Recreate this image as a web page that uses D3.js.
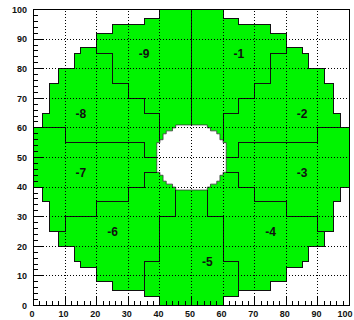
<!DOCTYPE html>
<html><head><meta charset="utf-8">
<script src="https://cdn.jsdelivr.net/npm/d3@7"></script>
<style>body{margin:0;background:#fff}svg{display:block}</style>
</head><body>
<svg id="c" width="354" height="320"></svg>
<script>
// ---- data ----
// outer boundary: column edges (x) with bottom / top y of filled region
const xEdges    = [0, 3, 5, 8, 13, 15, 20, 25, 35, 40, 60, 65, 75, 80, 85, 87, 92, 95, 97, 100];
const colTop    = [60, 65, 75, 80, 85, 87, 92, 95, 97, 100, 97, 95, 92, 87, 85, 80, 75, 65, 60];
const colBottom = [40, 35, 25, 20, 15, 13, 8, 5, 3, 0, 3, 5, 8, 13, 15, 20, 25, 35, 40];
// central hole: row bottoms and half widths around x = 50
const holeRows  = [39,40,41,42,43,44,45,46,47,48,49,50,51,52,53,54,55,56,57,58,59,60];
const holeHalf  = [5, 6, 8, 9, 9, 10,11,11,11,11,11,11,11,11,11,11,10, 9, 9, 8, 6, 5];
const holeCenter = 50;
// sector boundaries (polylines)
const sectorLines = [
  [[50,100],[50,61]],
  [[80,87],[80,85],[75,85],[75,75],[70,75],[70,70],[65,70],[65,65],[60,65],[60,56]],
  [[20,87],[20,85],[25,85],[25,75],[30,75],[30,70],[35,70],[35,65],[40,65],[40,56]],
  [[0,60],[10,60],[10,55],[35,55],[35,50],[39,50]],
  [[100,60],[90,60],[90,55],[65,55],[65,50],[61,50]],
  [[39,45],[35,45],[35,40],[30,40],[30,35],[20,35],[20,30],[10,30],[10,25],[8,25]],
  [[61,45],[65,45],[65,40],[70,40],[70,35],[80,35],[80,30],[90,30],[90,25],[92,25]],
  [[45,39],[45,30],[40,30],[40,15],[35,15],[35,3]],
  [[55,39],[55,30],[60,30],[60,15],[65,15],[65,3]]
];
// sector labels
const sectorNames = ["-1","-2","-3","-4","-5","-6","-7","-8","-9"];
const sectorLabelX = [65, 85, 85, 75, 55, 25, 15, 15, 35];
const sectorLabelY = [85, 65, 45, 25, 15, 25, 45, 65, 85];
// axes
const majorTicks = [0,10,20,30,40,50,60,70,80,90,100];
const minorTicks = [2,4,6,8,12,14,16,18,22,24,26,28,32,34,36,38,42,44,46,48,52,54,56,58,62,64,66,68,72,74,76,78,82,84,86,88,92,94,96,98];
const gridValues = [10,20,30,40,50,60,70,80,90];
const tickLabels = ["0","10","20","30","40","50","60","70","80","90","100"];

// ---- drawing ----
const svg = d3.select("#c");
const W = 354;
const x = d3.scaleLinear().domain([0,100]).range([33.5,349.5]);
const y = d3.scaleLinear().domain([0,100]).range([305.5,9.5]);
const line = d3.line().x(d=>x(d[0])).y(d=>y(d[1]));
const green = "#00f400";

// outer region polygon
const outer = [];
for (let i = 0; i < colTop.length; i++) { outer.push([xEdges[i], colTop[i]], [xEdges[i+1], colTop[i]]); }
for (let i = colBottom.length - 1; i >= 0; i--) { outer.push([xEdges[i+1], colBottom[i]], [xEdges[i], colBottom[i]]); }
svg.append("path").attr("d", line(outer) + "Z")
  .attr("fill", green).attr("stroke", "none");

// hole polygon
const hole = [];
for (let i = 0; i < holeRows.length; i++) { hole.push([holeCenter - holeHalf[i], holeRows[i]], [holeCenter - holeHalf[i], holeRows[i] + 1]); }
for (let i = holeRows.length - 1; i >= 0; i--) { hole.push([holeCenter + holeHalf[i], holeRows[i] + 1], [holeCenter + holeHalf[i], holeRows[i]]); }
svg.append("path").attr("d", line(hole) + "Z")
  .attr("fill", "#fff").attr("stroke", "#3a3a3a").attr("stroke-width", 0.8);

// outer outline
svg.append("path").attr("d", line(outer) + "Z")
  .attr("fill", "none").attr("stroke", "#111").attr("stroke-width", 1)
  .attr("shape-rendering", "crispEdges");

// sector lines
svg.selectAll("path.sec").data(sectorLines).join("path").attr("class","sec")
  .attr("d", d => line(d)).attr("fill","none").attr("stroke","#111").attr("stroke-width",1)
  .attr("shape-rendering","crispEdges");

// grid
const g = svg.append("g").attr("stroke","#000").attr("stroke-width",1).attr("stroke-dasharray","1,2").attr("shape-rendering","crispEdges");
g.selectAll("line.gx").data(gridValues).join("line").attr("class","gx")
  .attr("x1", d=>x(d)).attr("x2", d=>x(d)).attr("y1", y(0)).attr("y2", y(100));
g.selectAll("line.gy").data(gridValues).join("line").attr("class","gy")
  .attr("y1", d=>y(d)).attr("y2", d=>y(d)).attr("x1", x(0)).attr("x2", x(100));

// ticks
const t = svg.append("g").attr("stroke","#000").attr("stroke-width",1).attr("shape-rendering","crispEdges");
t.selectAll("line.mx").data(majorTicks).join("line").attr("class","mx")
  .attr("x1", d=>x(d)).attr("x2", d=>x(d)).attr("y1", y(0)).attr("y2", y(0) - 9);
t.selectAll("line.nx").data(minorTicks).join("line").attr("class","nx")
  .attr("x1", d=>x(d)).attr("x2", d=>x(d)).attr("y1", y(0)).attr("y2", y(0) - 4.5);
t.selectAll("line.my").data(majorTicks).join("line").attr("class","my")
  .attr("y1", d=>y(d)).attr("y2", d=>y(d)).attr("x1", x(0)).attr("x2", x(0) + 9.5);
t.selectAll("line.ny").data(minorTicks).join("line").attr("class","ny")
  .attr("y1", d=>y(d)).attr("y2", d=>y(d)).attr("x1", x(0)).attr("x2", x(0) + 4.7);

// frame
svg.append("rect").attr("x", x(0)).attr("y", y(100)).attr("width", x(100)-x(0)).attr("height", y(0)-y(100))
  .attr("fill","none").attr("stroke","#000").attr("stroke-width",1).attr("shape-rendering","crispEdges");

// tick labels
const lf = "'Liberation Sans', Arial, sans-serif";
svg.selectAll("text.xl").data(majorTicks).join("text").attr("class","xl")
  .attr("y", 316.5).attr("text-anchor","middle")
  .attr("font-family", lf).attr("font-weight","bold").attr("font-size", 9).attr("fill","#111")
  .text((d,i)=>tickLabels[i])
  .each(function(d){
    const w = this.getComputedTextLength();
    const cx = Math.min(x(d) - 1.5, W - 1.5 - w / 2);
    d3.select(this).attr("x", cx);
  });
svg.selectAll("text.yl").data(majorTicks).join("text").attr("class","yl")
  .attr("x", 27).attr("y", d=>y(d) + 3.2).attr("text-anchor","end")
  .attr("font-family", lf).attr("font-weight","bold").attr("font-size", 9).attr("fill","#111")
  .text((d,i)=>tickLabels[i]);

// sector labels
svg.selectAll("text.sl").data(sectorNames).join("text").attr("class","sl")
  .attr("x", (d,i)=>x(sectorLabelX[i])).attr("y", (d,i)=>y(sectorLabelY[i]) + 4.5)
  .attr("text-anchor","middle").attr("font-family", lf).attr("font-weight","bold")
  .attr("font-size", 12).attr("fill","#111").text(d=>d);
</script>
</body></html>
